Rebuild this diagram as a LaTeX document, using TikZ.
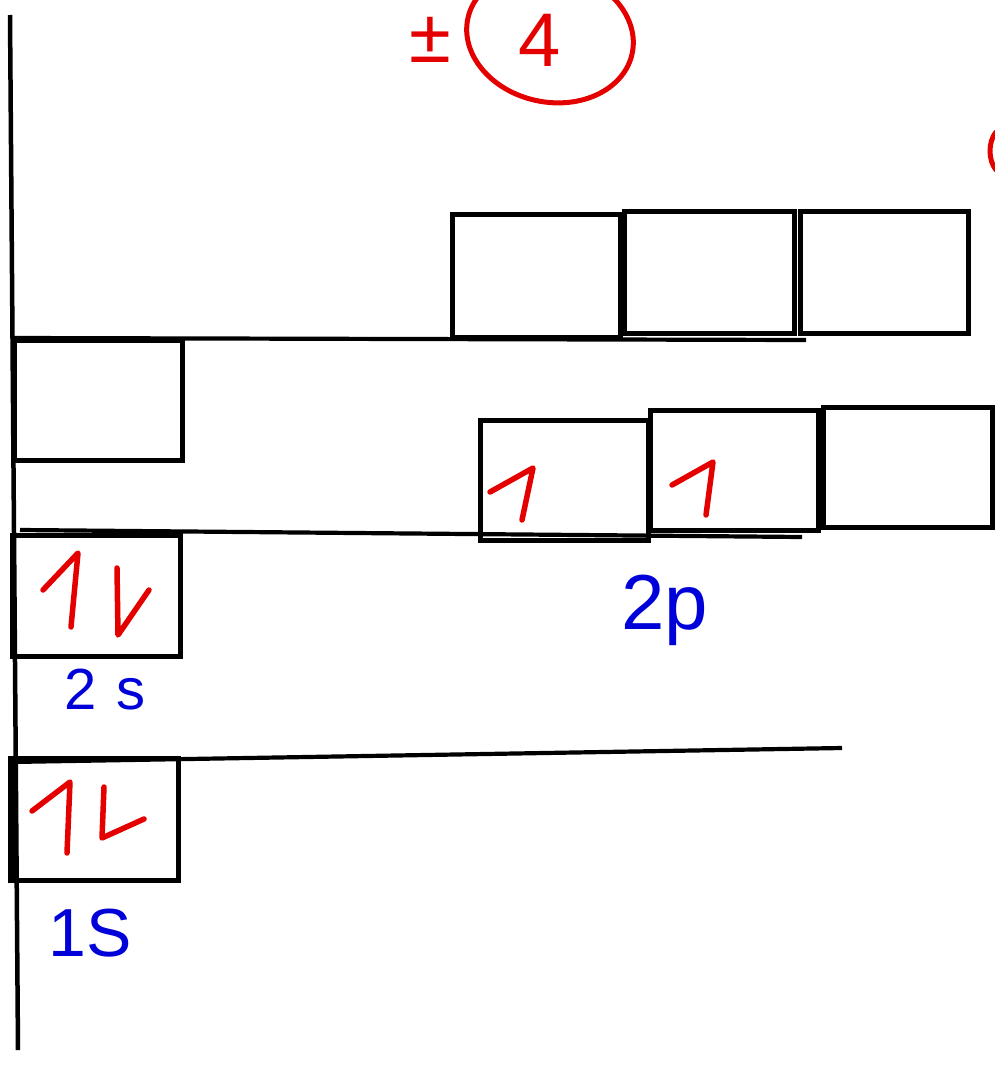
\documentclass[tikz,border=0pt]{standalone}
\usepackage{fontspec}
\setmainfont{Liberation Sans}
\begin{document}
\begin{tikzpicture}[x=1pt,y=-1pt,
  orb/.style={draw=black,line width=5pt,fill=none},
  lvl/.style={draw=black,line width=4.2pt},
  spin/.style={draw=red!90!black,line width=5.5pt,line cap=round,line join=round},
  lbl/.style={text=blue!85!black,font=\fontsize{58}{66}\selectfont,inner sep=0pt},
  rlbl/.style={text=red!90!black,font=\fontsize{76}{84}\selectfont,inner sep=0pt}]
\useasboundingbox (0,0) rectangle (994,1075);
% axis
\coordinate (axT) at (10,15);
\coordinate (axB) at (18,1050);
\draw[lvl,line width=4.5pt] (axT) -- (axB);
% level lines
\coordinate (l1a) at (12,338); \coordinate (l1b) at (806,340);
\coordinate (l2a) at (20,530); \coordinate (l2b) at (802,537);
\coordinate (l3a) at (10,762); \coordinate (l3b) at (842,748);
\draw[lvl] (l1a) -- (l1b);
\draw[lvl] (l2a) -- (l2b);
\draw[lvl] (l3a) -- (l3b);
% top row of boxes
\draw[orb] (452,215) rectangle (620,337);
\draw[orb] (624,212) rectangle (794,333);
\draw[orb] (800,212) rectangle (968,333);
% empty left box
\draw[orb] (14,340) rectangle (182,460);
% 2p boxes
\draw[orb] (480,420) rectangle (648,540);
\draw[orb] (650,410) rectangle (818,530);
\draw[orb] (823,407) rectangle (992,527);
% 2s box
\draw[orb] (12,535) rectangle (180,656);
% 1s box
\draw[orb] (10,758) rectangle (178,880);
\draw[black,line width=8pt] (13,758) -- (13,880);
% spins 2p
\draw[spin] (490,492) -- (533,468) -- (522,520);
\draw[spin] (672,485) -- (713,462) -- (706,515);
% spins 2s
\draw[spin] (43,590) -- (78,553) -- (71,627);
\draw[spin] (117,568) -- (118,635) -- (149,590);
% spins 1s
\draw[spin] (32,811) -- (70,782) -- (67,853);
\draw[spin] (104,787) -- (102,838) -- (144,819);
% labels
\node[lbl] (s2) at (105,690) {2\,\,s};
\node[lbl] (s1) at (90,933) {\fontsize{68}{76}\selectfont 1S};
\node[lbl] (p2) at (665,610) {\fontsize{78}{86}\selectfont 2p};
% top mark
\node[rlbl] (pm) at (430,40) {±};
\node[rlbl] (four) at (540,40) {4};
\draw[red!90!black,line width=5pt,rotate around={-12:(550,36)}] (550,36) ellipse [x radius=84, y radius=66];
% partial red mark at right edge
\draw[red!90!black,line width=5pt,line cap=round] (996,132) .. controls (988,142) and (988,160) .. (996,170);
\end{tikzpicture}
\end{document}
